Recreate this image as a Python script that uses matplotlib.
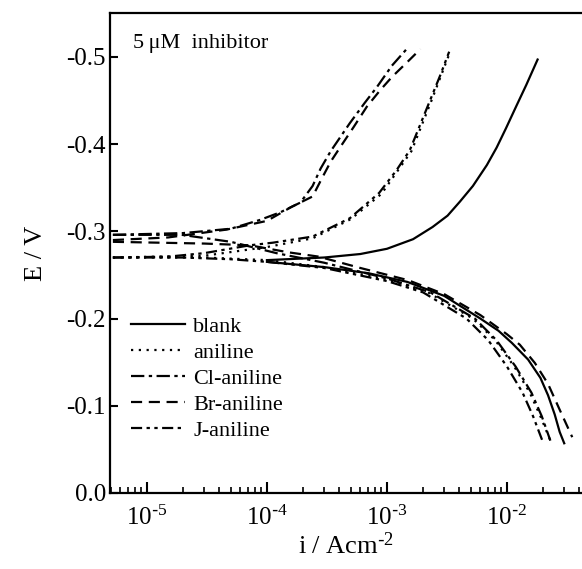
import matplotlib
matplotlib.use('Agg')
import matplotlib.pyplot as plt
from matplotlib.ticker import LogLocator, NullFormatter

plt.rcParams.update({'font.family': 'Liberation Serif',
                     'mathtext.default': 'regular',
                     'axes.unicode_minus': False})

# Tafel curves: (current density, potential) per branch
blank_up_i = [1.0e-4, 3e-4, 6e-4, 1.0e-3, 1.65e-3, 2.4e-3, 3.2e-3, 4.05e-3, 5.2e-3, 6.8e-3, 8.2e-3, 9.8e-3, 1.2e-2, 1.45e-2, 1.8e-2]
blank_up_E = [-0.267, -0.270, -0.274, -0.280, -0.291, -0.305, -0.318, -0.334, -0.352, -0.376, -0.396, -0.418, -0.444, -0.468, -0.497]
blank_lo_i = [1.0e-4, 3e-4, 7e-4, 1.48e-3, 3e-3, 6e-3, 8.5e-3, 1.1e-2, 1.5e-2, 1.9e-2, 2.2e-2, 2.5e-2, 2.75e-2, 3.0e-2]
blank_lo_E = [-0.265, -0.259, -0.252, -0.242, -0.226, -0.200, -0.186, -0.172, -0.153, -0.132, -0.112, -0.090, -0.070, -0.057]

anil_up_i = [5.2e-6, 3e-5, 1.0e-4, 2.4e-4, 5e-4, 9e-4, 1.6e-3, 2.35e-3, 3.3e-3]
anil_up_E = [-0.270, -0.272, -0.282, -0.292, -0.314, -0.343, -0.392, -0.450, -0.503]
anil_lo_i = [5.2e-6, 3e-5, 1.0e-4, 3e-4, 1.0e-3, 2.2e-3, 5.2e-3, 8e-3, 1.15e-2, 1.55e-2, 1.9e-2, 2.3e-2]
anil_lo_E = [-0.270, -0.270, -0.267, -0.259, -0.245, -0.230, -0.200, -0.175, -0.145, -0.115, -0.088, -0.060]

cl_up_i = [5.2e-6, 2e-5, 5e-5, 8.7e-5, 1.3e-4, 1.9e-4, 2.4e-4, 2.8e-4, 3.4e-4, 4.9e-4, 6.5e-4, 8.3e-4, 1.1e-3, 1.48e-3]
cl_up_E = [-0.296, -0.298, -0.303, -0.313, -0.322, -0.333, -0.352, -0.372, -0.392, -0.424, -0.447, -0.466, -0.490, -0.510]
cl_lo_i = [5.2e-6, 1.95e-5, 5e-5, 1.2e-4, 3e-4, 1.0e-3, 2.3e-3, 5.4e-3, 8.2e-3, 1.18e-2, 1.6e-2, 1.95e-2, 2.3e-2]
cl_lo_E = [-0.296, -0.296, -0.288, -0.275, -0.264, -0.246, -0.230, -0.200, -0.175, -0.145, -0.115, -0.088, -0.060]

br_up_i = [5.2e-6, 1.5e-5, 4.6e-5, 1.0e-4, 1.6e-4, 2.4e-4, 2.9e-4, 3.4e-4, 4.1e-4, 5.3e-4, 6.8e-4, 8.8e-4, 1.1e-3, 1.5e-3, 1.9e-3]
br_up_E = [-0.290, -0.293, -0.302, -0.312, -0.328, -0.340, -0.362, -0.380, -0.397, -0.420, -0.443, -0.462, -0.477, -0.495, -0.509]
br_lo_i = [5.2e-6, 3e-5, 7.2e-5, 1.5e-4, 2.7e-4, 6e-4, 1.5e-3, 3e-3, 6e-3, 1.0e-2, 1.28e-2, 1.71e-2, 2.2e-2, 2.76e-2, 3.5e-2]
br_lo_E = [-0.288, -0.286, -0.284, -0.276, -0.271, -0.258, -0.244, -0.228, -0.204, -0.182, -0.170, -0.149, -0.125, -0.095, -0.064]

j_up_i = [5.2e-6, 1.5e-5, 3e-5, 7.2e-5, 1.12e-4, 2.4e-4, 4.9e-4, 8.6e-4, 1.2e-3, 1.55e-3, 2.3e-3, 2.8e-3, 3.3e-3]
j_up_E = [-0.270, -0.271, -0.275, -0.284, -0.287, -0.294, -0.315, -0.344, -0.370, -0.393, -0.451, -0.480, -0.506]
j_lo_i = [5.2e-6, 2e-5, 5e-5, 1.0e-4, 3e-4, 1.0e-3, 2.0e-3, 4.6e-3, 7e-3, 1.0e-2, 1.35e-2, 1.65e-2, 1.96e-2]
j_lo_E = [-0.270, -0.270, -0.268, -0.265, -0.258, -0.243, -0.230, -0.200, -0.175, -0.145, -0.115, -0.088, -0.061]

labels = ['blank', 'aniline', 'Cl-aniline', 'Br-aniline', 'J-aniline']
curves = [(blank_up_i, blank_up_E, blank_lo_i, blank_lo_E),
          (anil_up_i, anil_up_E, anil_lo_i, anil_lo_E),
          (cl_up_i, cl_up_E, cl_lo_i, cl_lo_E),
          (br_up_i, br_up_E, br_lo_i, br_lo_E),
          (j_up_i, j_up_E, j_lo_i, j_lo_E)]
styles = ['-', (0, (1, 2.5)), (0, (6, 2, 1.5, 2)), (0, (5, 3)), (0, (5, 2, 1.5, 2, 1.5, 2))]

x_ticks = [1e-5, 1e-4, 1e-3, 1e-2]
x_ticklabels = ['$10^{\\text{-}5}$', '$10^{\\text{-}4}$', '$10^{\\text{-}3}$', '$10^{\\text{-}2}$']
y_ticks = [0.0, -0.1, -0.2, -0.3, -0.4, -0.5]
y_ticklabels = ['0.0', '-0.1', '-0.2', '-0.3', '-0.4', '-0.5']

fig = plt.figure(figsize=(5.82, 5.69), dpi=100)
ax = fig.add_axes([0.189, 0.1336, 0.811, 0.843])

for (ui, ue, li, le), ls, lab in zip(curves, styles, labels):
    ax.plot(ui, ue, color='black', linestyle=ls, linewidth=1.6, label=lab)
    ax.plot(li, le, color='black', linestyle=ls, linewidth=1.6)

ax.set_xscale('log')
ax.set_xlim(4.92e-6, 0.0422)
ax.set_ylim(0.0, -0.55)
ax.set_yticks(y_ticks)
ax.set_yticklabels(y_ticklabels)
ax.set_xticks(x_ticks)
ax.set_xticklabels(x_ticklabels)
ax.xaxis.set_minor_locator(LogLocator(base=10, subs=range(2, 10)))
ax.xaxis.set_minor_formatter(NullFormatter())

ax.tick_params(axis='both', which='major', direction='in', labelsize=18, width=1.5)
ax.tick_params(axis='x', which='major', length=8, pad=9)
ax.tick_params(axis='y', which='major', length=6, pad=3)
ax.tick_params(axis='x', which='minor', direction='in', length=4, width=1.2)
ax.tick_params(axis='y', which='minor', left=False)
for s in ['left', 'bottom', 'top']:
    ax.spines[s].set_linewidth(1.6)
ax.spines['right'].set_visible(False)

ax.set_xlabel('i / Acm$^{\\text{-}2}$', fontsize=19, labelpad=2)
ax.set_ylabel('E / V', fontsize=19, labelpad=14)

ax.text(0.049, 0.9375, '5\u2009\u03bcM  inhibitor', transform=ax.transAxes,
        fontsize=16, va='center', ha='left')

ax.legend(loc='center left', bbox_to_anchor=(0.045, 0.2385), frameon=False,
          fontsize=16, handlelength=2.4, handletextpad=0.4, labelspacing=0.25,
          borderpad=0, borderaxespad=0)

plt.savefig('out.png', dpi=100)
